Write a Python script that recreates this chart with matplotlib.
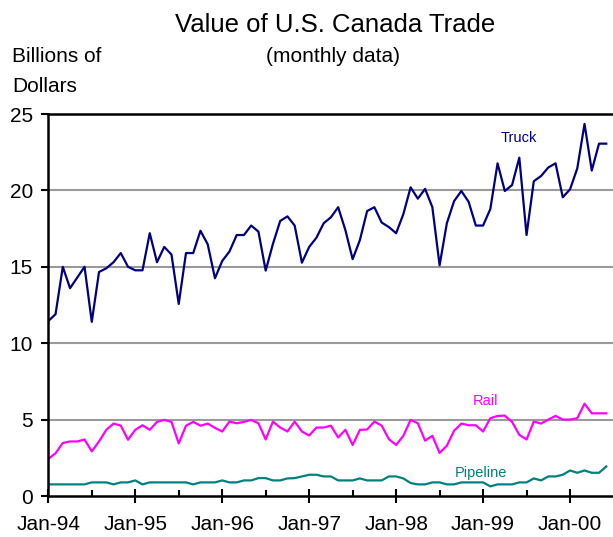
import numpy as np
import matplotlib.pyplot as plt

plt.rcParams['font.family'] = ['Liberation Sans', 'DejaVu Sans']

# monthly values, Jan-94 .. Jun-00 (billions of dollars)
truck = [11.45, 11.9, 15.0, 13.6, 14.3, 15.0, 11.4, 14.66, 14.9, 15.3, 15.9, 15.0,
         14.77, 14.77, 17.2, 15.3, 16.3, 15.8, 12.57, 15.9, 15.9, 17.36, 16.47, 14.25,
         15.38, 16.0, 17.08, 17.08, 17.7, 17.3, 14.75, 16.5, 18.0, 18.3, 17.7, 15.27,
         16.3, 16.9, 17.85, 18.24, 18.9, 17.4, 15.5, 16.75, 18.65, 18.9, 17.9, 17.6,
         17.2, 18.45, 20.2, 19.46, 20.1, 18.9, 15.1, 17.85, 19.3, 19.96, 19.26, 17.7,
         17.7, 18.78, 21.77, 19.96, 20.35, 22.14, 17.08, 20.6, 20.94, 21.5, 21.77, 19.55,
         20.07, 21.44, 24.35, 21.3, 23.06, 23.06]
rail = [2.43, 2.8, 3.47, 3.57, 3.57, 3.7, 2.92, 3.57, 4.33, 4.74, 4.61, 3.68,
        4.33, 4.63, 4.33, 4.85, 4.98, 4.85, 3.44, 4.6, 4.85, 4.6, 4.74, 4.46,
        4.22, 4.87, 4.76, 4.85, 4.98, 4.76, 3.7, 4.87, 4.48, 4.22, 4.87, 4.22,
        3.96, 4.48, 4.48, 4.6, 3.83, 4.33, 3.34, 4.33, 4.35, 4.87, 4.61, 3.72,
        3.34, 3.94, 4.98, 4.76, 3.62, 3.94, 2.82, 3.29, 4.27, 4.74, 4.63, 4.63,
        4.22, 5.09, 5.24, 5.26, 4.85, 4.0, 3.7, 4.87, 4.74, 5.0, 5.24, 5.0,
        5.0, 5.09, 6.04, 5.41, 5.41, 5.41]
pipeline = [0.76, 0.76, 0.76, 0.76, 0.76, 0.76, 0.89, 0.89, 0.89, 0.76, 0.89, 0.89,
            1.02, 0.76, 0.89, 0.89, 0.89, 0.89, 0.89, 0.89, 0.76, 0.89, 0.89, 0.89,
            1.02, 0.89, 0.89, 1.02, 1.02, 1.17, 1.17, 1.02, 1.02, 1.15, 1.17, 1.28,
            1.39, 1.39, 1.28, 1.28, 1.02, 1.02, 1.02, 1.15, 1.02, 1.02, 1.02, 1.28,
            1.28, 1.15, 0.85, 0.76, 0.76, 0.89, 0.89, 0.76, 0.76, 0.89, 0.89, 0.89,
            0.89, 0.63, 0.76, 0.76, 0.76, 0.89, 0.89, 1.15, 1.02, 1.28, 1.28, 1.39,
            1.67, 1.52, 1.67, 1.52, 1.52, 1.93]

year_labels = ['Jan-94', 'Jan-95', 'Jan-96', 'Jan-97', 'Jan-98', 'Jan-99', 'Jan-00']

months = np.arange(len(truck))

fig = plt.figure(figsize=(6.13, 5.37), dpi=100)
ax = fig.add_axes([48.3 / 613, 1 - 496 / 537, 1 - 48.3 / 613, (496 - 114) / 537])

ax.plot(months, truck, color='#000080', lw=1.6)
ax.plot(months, rail, color='#ff00ff', lw=1.6)
ax.plot(months, pipeline, color='#008080', lw=1.6)

ax.text(64.9, 23.4, 'Truck', color='#000080', fontsize=10.5, ha='center', va='center')
ax.text(60.4, 6.2, 'Rail', color='#ff00ff', fontsize=10.5, ha='center', va='center')
ax.text(59.7, 1.5, 'Pipeline', color='#008080', fontsize=10.5, ha='center', va='center')

ax.set_xlim(0, 77.93)
ax.set_ylim(0, 25)

# horizontal gridlines
for v in [5, 10, 15, 20]:
    ax.axhline(v, color='#9a9a9a', lw=1.5, zorder=0)

ax.set_yticks([0, 5, 10, 15, 20, 25])
ax.tick_params(axis='y', direction='out', length=5, width=1.5, labelsize=15, pad=6)
for i, tl in enumerate(ax.yaxis.get_ticklines()):
    if 1 <= i // 2 <= 4:
        tl.set_color('#9a9a9a')

ax.set_xticks(np.arange(0, 73, 12))
ax.set_xticklabels(year_labels)
ax.set_xticks(np.arange(6, 78, 12), minor=True)
ax.tick_params(axis='x', which='major', direction='inout', length=10, width=1.5,
               labelsize=15, pad=9)
ax.tick_params(axis='x', which='minor', direction='in', length=4, width=1.5)

for side in ['left', 'bottom', 'top']:
    ax.spines[side].set_linewidth(1.8)
ax.spines['right'].set_visible(False)

fig.text(335.5 / 613, 1 - 31.7 / 537, 'Value of U.S. Canada Trade', fontsize=18.5,
         ha='center', va='baseline')
fig.text(333.5 / 613, 1 - 62 / 537, '(monthly data)', fontsize=15,
         ha='center', va='baseline')
fig.text(12.3 / 613, 1 - 62 / 537, 'Billions of', fontsize=15, ha='left', va='baseline')
fig.text(12.3 / 613, 1 - 92 / 537, 'Dollars', fontsize=15, ha='left', va='baseline')

fig.savefig('out.png', dpi=100)
